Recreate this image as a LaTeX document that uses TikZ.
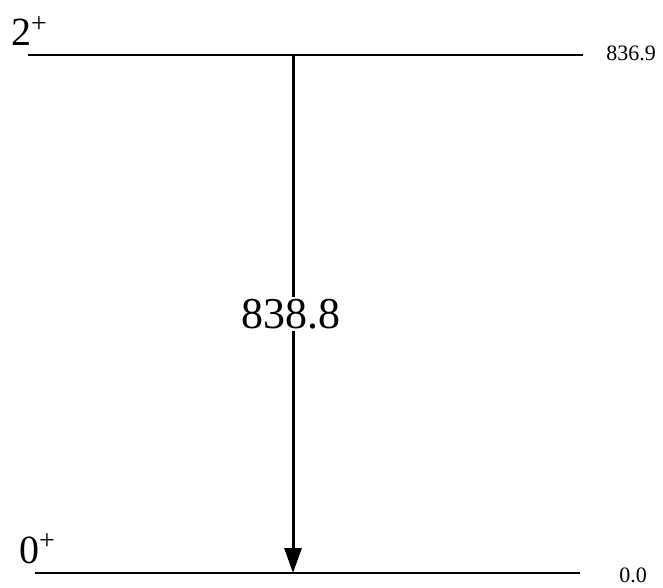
\documentclass[tikz,border=0pt]{standalone}
\usepackage{fontspec}
\setmainfont{Liberation Serif}
\usetikzlibrary{arrows.meta}
\newcommand{\spinsup}[1]{\raisebox{#1}{\fontsize{28}{28}\selectfont +}}
\begin{document}
\begin{tikzpicture}[x=1pt,y=-1pt,
  level/.style={line width=1.8pt},
  trans/.style={line width=3pt,-{Triangle[length=25pt,width=17pt]}},
  spin/.style={anchor=base west,inner sep=0pt,font=\fontsize{40}{40}\selectfont},
  energy/.style={anchor=base,inner sep=0pt,font=\fontsize{22}{22}\selectfont},
  glabel/.style={anchor=base,fill=white,inner sep=2pt,font=\fontsize{44}{44}\selectfont}]
\useasboundingbox (0,0) rectangle (663,587);
% levels
\coordinate (t1) at (28,55);
\coordinate (t2) at (583,55);
\coordinate (b1) at (35,573);
\coordinate (b2) at (580,573);
\coordinate (ga) at (293,55);
\coordinate (gb) at (293,573);
\draw[level] (t1) -- (t2);
\draw[level] (b1) -- (b2);
% transition
\draw[trans] (ga) -- (gb);
\node[glabel] (g) at (291,328) {838.8};
% labels
\node[spin] (s2) at (11,45) {2\spinsup{12.5pt}};
\node[spin] (s0) at (19,563) {0\spinsup{14pt}};
\node[energy] (e2) at (631,60) {836.9};
\node[energy] (e0) at (633,582) {0.0};
\end{tikzpicture}
\end{document}
